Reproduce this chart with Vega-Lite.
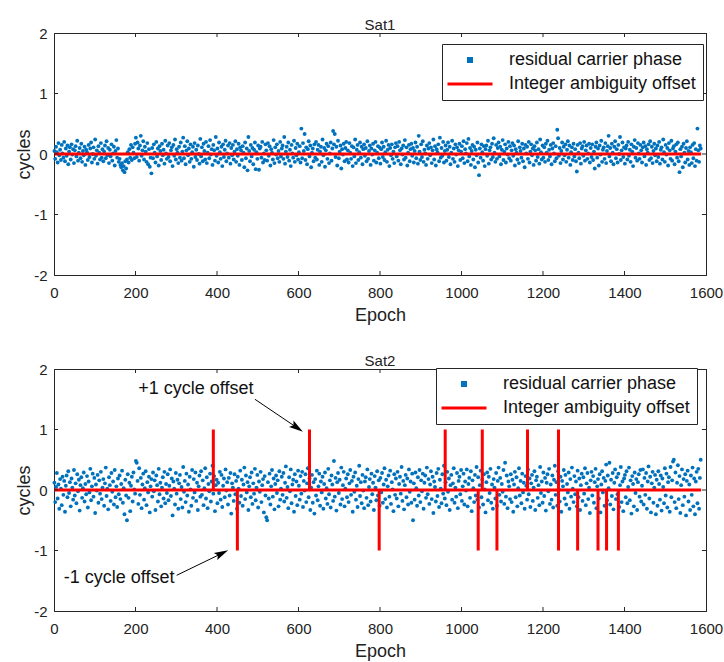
{
"$schema": "https://vega.github.io/schema/vega-lite/v6.json",
"background": "white",
"padding": {"left": 15, "top": 17, "right": 0, "bottom": 0},
"spacing": 28,
"config": {
 "font": "Liberation Sans",
 "view": {"stroke": "#262626", "strokeWidth": 1},
 "axis": {"grid": false, "domainColor": "#262626", "tickColor": "#262626", "labelColor": "#222222", "titleColor": "#222222", "labelFontSize": 15, "titleFontSize": 18, "titleFontWeight": "normal", "tickSize": 0, "labelFlush": false, "labelOverlap": false},
 "title": {"fontSize": 15, "fontWeight": "normal", "color": "#222222"},
 "style": {"group-title": {"fontSize": 15, "fontWeight": "normal"}},
 "legend": {"title": null, "fillColor": "white", "strokeColor": "#262626", "padding": 7, "labelFontSize": 18, "labelColor": "#111111", "labelLimit": 400, "symbolSize": 2025, "symbolStrokeWidth": 3, "rowPadding": 6, "labelOffset": 30, "symbolOffset": 12}
},
"datasets": {
"r": [{"e":1,"a":0.05,"b":0.12},{"e":3,"a":-0.08,"b":-0.2},{"e":5,"a":0.12,"b":0.05},{"e":7,"a":0.03,"b":0.28},{"e":9,"a":-0.14,"b":-0.14},{"e":11,"a":0.18,"b":0.09},{"e":13,"a":-0.02,"b":-0.31},{"e":15,"a":0.07,"b":0.18},{"e":17,"a":-0.1,"b":0.02},{"e":19,"a":0.15,"b":-0.25},{"e":21,"a":0.01,"b":0.22},{"e":23,"a":-0.06,"b":-0.08},{"e":25,"a":0.2,"b":0.15},{"e":27,"a":-0.12,"b":-0.36},{"e":29,"a":0.09,"b":0.07},{"e":31,"a":-0.03,"b":0.24},{"e":33,"a":0.14,"b":-0.12},{"e":35,"a":-0.17,"b":0.31},{"e":37,"a":0.04,"b":-0.05},{"e":39,"a":0.11,"b":0.13},
{"e":41,"a":-0.09,"b":-0.27},{"e":43,"a":0.16,"b":0.19},{"e":45,"a":-0.01,"b":0.04},{"e":47,"a":0.08,"b":-0.16},{"e":49,"a":-0.15,"b":0.33},{"e":51,"a":0.06,"b":-0.09},{"e":53,"a":0.13,"b":0.11},{"e":55,"a":-0.04,"b":-0.22},{"e":57,"a":0.22,"b":0.26},{"e":59,"a":-0.11,"b":-0.02},{"e":61,"a":0.02,"b":0.17},{"e":63,"a":0.1,"b":-0.34},{"e":65,"a":-0.07,"b":0.08},{"e":67,"a":0.17,"b":0.21},{"e":69,"a":-0.13,"b":-0.13},{"e":71,"a":0.05,"b":0.03},{"e":73,"a":-0.02,"b":0.29},{"e":75,"a":0.12,"b":-0.19},{"e":77,"a":-0.18,"b":0.1},{"e":79,"a":0.07,"b":-0.07},
{"e":81,"a":0.03,"b":0.23},{"e":83,"a":-0.1,"b":-0.29},{"e":85,"a":0.15,"b":0.14},{"e":87,"a":-0.05,"b":-0.04},{"e":89,"a":0.09,"b":0.35},{"e":91,"a":0.19,"b":-0.17},{"e":93,"a":-0.14,"b":0.06},{"e":95,"a":0,"b":0.27},{"e":97,"a":0.11,"b":-0.11},{"e":99,"a":-0.08,"b":0.2},{"e":101,"a":0.24,"b":-0.38},{"e":103,"a":-0.03,"b":0.09},{"e":105,"a":0.06,"b":-0.01},{"e":107,"a":-0.16,"b":0.25},{"e":109,"a":0.13,"b":-0.21},{"e":111,"a":0.02,"b":0.16},{"e":113,"a":-0.09,"b":-0.06},{"e":115,"a":0.18,"b":0.3},{"e":117,"a":-0.06,"b":-0.15},{"e":119,"a":0.08,"b":0.04},
{"e":121,"a":-0.12,"b":0.18},{"e":123,"a":0.04,"b":-0.26},{"e":125,"a":0.14,"b":0.11},{"e":127,"a":-0.07,"b":0.37},{"e":129,"a":0.21,"b":-0.1},{"e":131,"a":-0.02,"b":0.02},{"e":133,"a":0.1,"b":-0.32},{"e":135,"a":-0.15,"b":0.21},{"e":137,"a":0.07,"b":0.08},{"e":139,"a":-0.04,"b":-0.18},{"e":141,"a":0.16,"b":0.28},{"e":143,"a":-0.11,"b":-0.03},{"e":145,"a":0.01,"b":0.14},{"e":147,"a":0.12,"b":-0.24},{"e":149,"a":-0.19,"b":0.33},{"e":151,"a":0.05,"b":-0.12},{"e":153,"a":0.23,"b":0.06},{"e":155,"a":-0.06,"b":-0.28},{"e":157,"a":0.09,"b":0.19},{"e":159,"a":-0.13,"b":-0.07},
{"e":161,"a":-0.08,"b":0.24},{"e":163,"a":-0.18,"b":-0.15},{"e":165,"a":-0.22,"b":0.1},{"e":167,"a":-0.15,"b":0.32},{"e":169,"a":-0.27,"b":-0.21},{"e":171,"a":-0.2,"b":0.03},{"e":173,"a":-0.3,"b":-0.4},{"e":175,"a":-0.12,"b":0.17},{"e":177,"a":-0.24,"b":-0.09},{"e":179,"a":-0.09,"b":-0.5},{"e":181,"a":0.03,"b":0.26},{"e":183,"a":-0.14,"b":-0.13},{"e":185,"a":0.08,"b":0.12},{"e":187,"a":-0.06,"b":-0.35},{"e":189,"a":0.15,"b":0.07},{"e":191,"a":-0.1,"b":0.22},{"e":193,"a":0.11,"b":-0.19},{"e":195,"a":0.02,"b":0.29},{"e":197,"a":-0.07,"b":0.01},{"e":199,"a":0.17,"b":-0.06},
{"e":201,"a":0.27,"b":0.48},{"e":203,"a":-0.05,"b":0.45},{"e":205,"a":0.19,"b":0.15},{"e":207,"a":0.09,"b":-0.23},{"e":209,"a":-0.11,"b":0.36},{"e":211,"a":0.14,"b":-0.08},{"e":213,"a":0.3,"b":0.2},{"e":215,"a":-0.03,"b":-0.3},{"e":217,"a":0.06,"b":0.09},{"e":219,"a":0.21,"b":0.27},{"e":221,"a":-0.09,"b":-0.16},{"e":223,"a":0.12,"b":0.03},{"e":225,"a":0.04,"b":0.31},{"e":227,"a":-0.13,"b":-0.25},{"e":229,"a":0.18,"b":0.13},{"e":231,"a":-0.17,"b":-0.04},{"e":233,"a":0.08,"b":0.22},{"e":235,"a":-0.21,"b":-0.37},{"e":237,"a":-0.06,"b":0.06},{"e":239,"a":-0.32,"b":0.18},
{"e":241,"a":0.1,"b":-0.11},{"e":243,"a":-0.07,"b":0.29},{"e":245,"a":0.16,"b":-0.02},{"e":247,"a":0.02,"b":0.16},{"e":249,"a":-0.14,"b":-0.33},{"e":251,"a":0.2,"b":0.24},{"e":253,"a":-0.04,"b":0.08},{"e":255,"a":0.09,"b":-0.19},{"e":257,"a":-0.19,"b":0.35},{"e":259,"a":0.13,"b":-0.07},{"e":261,"a":0.05,"b":0.12},{"e":263,"a":-0.1,"b":-0.27},{"e":265,"a":0.17,"b":0.04},{"e":267,"a":-0.02,"b":0.21},{"e":269,"a":0.07,"b":-0.14},{"e":271,"a":-0.16,"b":0.3},{"e":273,"a":0.22,"b":-0.22},{"e":275,"a":0.01,"b":0.1},{"e":277,"a":-0.08,"b":-0.05},{"e":279,"a":0.14,"b":0.26},
{"e":281,"a":-0.05,"b":-0.17},{"e":283,"a":0.18,"b":0.07},{"e":285,"a":-0.12,"b":0.34},{"e":287,"a":0.06,"b":-0.1},{"e":289,"a":0.11,"b":0.19},{"e":291,"a":-0.2,"b":-0.42},{"e":293,"a":0.15,"b":0.14},{"e":295,"a":-0.03,"b":0.02},{"e":297,"a":0.24,"b":-0.24},{"e":299,"a":-0.09,"b":0.28},{"e":301,"a":0.08,"b":-0.06},{"e":303,"a":0.02,"b":0.17},{"e":305,"a":-0.15,"b":-0.31},{"e":307,"a":0.12,"b":0.11},{"e":309,"a":-0.06,"b":0.25},{"e":311,"a":0.19,"b":-0.15},{"e":313,"a":-0.11,"b":0.05},{"e":315,"a":0.04,"b":-0.29},{"e":317,"a":0.27,"b":0.38},{"e":319,"a":-0.07,"b":-0.03},
{"e":321,"a":0.13,"b":0.15},{"e":323,"a":-0.17,"b":-0.2},{"e":325,"a":0.06,"b":0.27},{"e":327,"a":0.21,"b":-0.09},{"e":329,"a":-0.02,"b":0.09},{"e":331,"a":0.09,"b":-0.36},{"e":333,"a":-0.13,"b":0.22},{"e":335,"a":0.16,"b":0.01},{"e":337,"a":-0.08,"b":-0.26},{"e":339,"a":0.03,"b":0.33},{"e":341,"a":0.12,"b":-0.13},{"e":343,"a":-0.21,"b":0.18},{"e":345,"a":0.18,"b":-0.04},{"e":347,"a":-0.05,"b":0.29},{"e":349,"a":0.07,"b":-0.18},{"e":351,"a":-0.1,"b":0.12},{"e":353,"a":0.14,"b":-0.33},{"e":355,"a":0,"b":0.06},{"e":357,"a":-0.16,"b":0.24},{"e":359,"a":0.25,"b":-0.11},
{"e":361,"a":-0.04,"b":0.31},{"e":363,"a":0.11,"b":-0.08},{"e":365,"a":-0.12,"b":0.16},{"e":367,"a":0.17,"b":-0.25},{"e":369,"a":0.05,"b":0.03},{"e":371,"a":-0.09,"b":0.36},{"e":373,"a":0.2,"b":-0.14},{"e":375,"a":-0.15,"b":0.21},{"e":377,"a":0.02,"b":-0.3},{"e":379,"a":0.13,"b":0.1},{"e":381,"a":-0.07,"b":-0.02},{"e":383,"a":0.23,"b":0.27},{"e":385,"a":-0.01,"b":-0.19},{"e":387,"a":0.08,"b":0.14},{"e":389,"a":-0.18,"b":0.4},{"e":391,"a":0.15,"b":-0.06},{"e":393,"a":0.06,"b":0.23},{"e":395,"a":-0.11,"b":-0.35},{"e":397,"a":0.28,"b":0.08},{"e":399,"a":-0.03,"b":0.17},
{"e":401,"a":0.09,"b":-0.22},{"e":403,"a":-0.14,"b":0.12},{"e":405,"a":0.19,"b":-0.05},{"e":407,"a":0.03,"b":0.3},{"e":409,"a":-0.08,"b":-0.16},{"e":411,"a":0.12,"b":0.25},{"e":413,"a":-0.2,"b":-0.28},{"e":415,"a":0.16,"b":0.07},{"e":417,"a":-0.05,"b":0.19},{"e":419,"a":0.07,"b":-0.12},{"e":421,"a":0.22,"b":0.34},{"e":423,"a":-0.12,"b":-0.01},{"e":425,"a":0.01,"b":0.13},{"e":427,"a":0.14,"b":-0.24},{"e":429,"a":-0.06,"b":0.2},{"e":431,"a":0.18,"b":-0.09},{"e":433,"a":-0.16,"b":0.28},{"e":435,"a":0.1,"b":-0.39},{"e":437,"a":-0.02,"b":0.11},{"e":439,"a":0.15,"b":0.04},
{"e":441,"a":-0.09,"b":-0.18},{"e":443,"a":0.04,"b":0.26},{"e":445,"a":0.21,"b":-0.07},{"e":447,"a":-0.13,"b":0.15},{"e":449,"a":0.08,"b":-0.31},{"e":451,"a":-0.03,"b":0.22},{"e":453,"a":0.17,"b":0.02},{"e":455,"a":-0.18,"b":-0.21},{"e":457,"a":0.11,"b":0.32},{"e":459,"a":0.06,"b":-0.1},{"e":461,"a":-0.1,"b":0.17},{"e":463,"a":0.13,"b":-0.26},{"e":465,"a":0.02,"b":0.09},{"e":467,"a":-0.22,"b":0.37},{"e":469,"a":0.19,"b":-0.15},{"e":471,"a":-0.07,"b":0.24},{"e":473,"a":0.09,"b":-0.04},{"e":475,"a":-0.27,"b":0.13},{"e":477,"a":0.28,"b":-0.33},{"e":479,"a":0.05,"b":0.06},
{"e":481,"a":-0.12,"b":0.21},{"e":483,"a":0.15,"b":-0.12},{"e":485,"a":-0.04,"b":0.29},{"e":487,"a":0.1,"b":-0.23},{"e":489,"a":-0.17,"b":0.11},{"e":491,"a":0.07,"b":-0.06},{"e":493,"a":0.19,"b":0.35},{"e":495,"a":-0.25,"b":-0.17},{"e":497,"a":0.03,"b":0.04},{"e":499,"a":-0.08,"b":0.25},{"e":501,"a":0.14,"b":-0.29},{"e":503,"a":-0.26,"b":0.14},{"e":505,"a":0.09,"b":-0.03},{"e":507,"a":0.12,"b":0.3},{"e":509,"a":-0.06,"b":-0.2},{"e":511,"a":0.2,"b":0.08},{"e":513,"a":-0.14,"b":0.18},{"e":515,"a":0.01,"b":-0.37},{"e":517,"a":-0.1,"b":0.23},{"e":519,"a":0.16,"b":-0.09},
{"e":521,"a":0.06,"b":-0.45},{"e":523,"a":-0.11,"b":-0.5},{"e":525,"a":0.18,"b":0.13},{"e":527,"a":-0.03,"b":-0.14},{"e":529,"a":0.13,"b":0.27},{"e":531,"a":-0.19,"b":-0.24},{"e":533,"a":0.08,"b":0.06},{"e":535,"a":0.02,"b":0.33},{"e":537,"a":-0.09,"b":-0.11},{"e":539,"a":0.23,"b":0.19},{"e":541,"a":-0.15,"b":-0.32},{"e":543,"a":0.11,"b":0.1},{"e":545,"a":-0.01,"b":0.24},{"e":547,"a":0.16,"b":-0.05},{"e":549,"a":-0.07,"b":0.16},{"e":551,"a":0.05,"b":-0.27},{"e":553,"a":-0.13,"b":0.31},{"e":555,"a":0.2,"b":-0.16},{"e":557,"a":-0.04,"b":0.02},{"e":559,"a":0.09,"b":0.22},
{"e":561,"a":0.14,"b":-0.08},{"e":563,"a":-0.08,"b":0.28},{"e":565,"a":0.28,"b":-0.19},{"e":567,"a":-0.16,"b":0.12},{"e":569,"a":0.04,"b":0.39},{"e":571,"a":0.12,"b":-0.13},{"e":573,"a":-0.05,"b":0.05},{"e":575,"a":0.19,"b":-0.3},{"e":577,"a":-0.11,"b":0.21},{"e":579,"a":0.07,"b":-0.02},{"e":581,"a":-0.2,"b":0.34},{"e":583,"a":0.15,"b":-0.22},{"e":585,"a":0.01,"b":0.09},{"e":587,"a":-0.06,"b":0.17},{"e":589,"a":0.22,"b":-0.36},{"e":591,"a":-0.13,"b":0.26},{"e":593,"a":0.1,"b":-0.1},{"e":595,"a":-0.02,"b":0.14},{"e":597,"a":0.17,"b":-0.25},{"e":599,"a":-0.09,"b":0.32},
{"e":601,"a":0.03,"b":0.07},{"e":603,"a":0.13,"b":-0.16},{"e":605,"a":-0.14,"b":0.23},{"e":607,"a":0.42,"b":-0.06},{"e":609,"a":-0.07,"b":0.3},{"e":611,"a":0.18,"b":-0.28},{"e":613,"a":0.05,"b":0.15},{"e":615,"a":0.33,"b":-0.01},{"e":617,"a":-0.1,"b":0.26},{"e":619,"a":0.11,"b":-0.2},{"e":621,"a":-0.17,"b":0.11},{"e":623,"a":0.08,"b":0.36},{"e":625,"a":0.21,"b":-0.12},{"e":627,"a":-0.04,"b":0.19},{"e":629,"a":0.14,"b":-0.33},{"e":631,"a":-0.22,"b":0.04},{"e":633,"a":0.02,"b":0.25},{"e":635,"a":0.09,"b":-0.21},{"e":637,"a":-0.12,"b":0.13},{"e":639,"a":0.16,"b":-0.39},
{"e":641,"a":-0.06,"b":0.18},{"e":643,"a":0.2,"b":-0.09},{"e":645,"a":-0.09,"b":0.32},{"e":647,"a":0.07,"b":-0.17},{"e":649,"a":0.15,"b":0.06},{"e":651,"a":-0.18,"b":0.27},{"e":653,"a":0.04,"b":-0.26},{"e":655,"a":0.12,"b":0.14},{"e":657,"a":-0.13,"b":-0.04},{"e":659,"a":0.24,"b":0.22},{"e":661,"a":-0.02,"b":-0.31},{"e":663,"a":0.1,"b":0.1},{"e":665,"a":-0.21,"b":0.29},{"e":667,"a":0.06,"b":-0.14},{"e":669,"a":0.17,"b":0.03},{"e":671,"a":-0.08,"b":-0.23},{"e":673,"a":0.13,"b":0.35},{"e":675,"a":-0.15,"b":-0.07},{"e":677,"a":0.01,"b":0.16},{"e":679,"a":0.19,"b":-0.29},
{"e":681,"a":-0.11,"b":0.24},{"e":683,"a":0.09,"b":0.09},{"e":685,"a":0.38,"b":-0.18},{"e":687,"a":0.16,"b":0.48},{"e":689,"a":0.33,"b":-0.11},{"e":691,"a":-0.05,"b":0.2},{"e":693,"a":0.12,"b":-0.34},{"e":695,"a":-0.19,"b":0.13},{"e":697,"a":0.22,"b":0.28},{"e":699,"a":-0.07,"b":-0.05},{"e":701,"a":0.04,"b":0.17},{"e":703,"a":0.14,"b":-0.24},{"e":705,"a":-0.24,"b":0.37},{"e":707,"a":0.08,"b":-0.15},{"e":709,"a":-0.01,"b":0.08},{"e":711,"a":0.17,"b":0.3},{"e":713,"a":-0.12,"b":-0.27},{"e":715,"a":0.1,"b":0.02},{"e":717,"a":0.2,"b":0.19},{"e":719,"a":-0.09,"b":-0.12},
{"e":721,"a":0.06,"b":0.26},{"e":723,"a":-0.14,"b":-0.2},{"e":725,"a":0.18,"b":0.11},{"e":727,"a":0.02,"b":0.33},{"e":729,"a":-0.08,"b":-0.08},{"e":731,"a":0.13,"b":0.15},{"e":733,"a":-0.2,"b":-0.36},{"e":735,"a":0.11,"b":0.22},{"e":737,"a":-0.04,"b":-0.03},{"e":739,"a":0.24,"b":0.29},{"e":741,"a":-0.15,"b":-0.16},{"e":743,"a":0.07,"b":0.07},{"e":745,"a":0.15,"b":-0.28},{"e":747,"a":-0.1,"b":0.18},{"e":749,"a":0.03,"b":0.4},{"e":751,"a":0.19,"b":-0.1},{"e":753,"a":-0.06,"b":0.13},{"e":755,"a":0.12,"b":-0.22},{"e":757,"a":-0.17,"b":0.25},{"e":759,"a":0.08,"b":-0.01},
{"e":761,"a":0.16,"b":-0.3},{"e":763,"a":-0.03,"b":0.14},{"e":765,"a":0.1,"b":0.21},{"e":767,"a":-0.12,"b":-0.13},{"e":769,"a":0.21,"b":0.34},{"e":771,"a":-0.08,"b":-0.25},{"e":773,"a":0.05,"b":0.05},{"e":775,"a":0.14,"b":0.18},{"e":777,"a":-0.18,"b":-0.19},{"e":779,"a":0.09,"b":0.27},{"e":781,"a":-0.01,"b":-0.07},{"e":783,"a":0.17,"b":0.12},{"e":785,"a":-0.11,"b":-0.33},{"e":787,"a":0.06,"b":0.23},{"e":789,"a":0.2,"b":0.04},{"e":791,"a":-0.14,"b":-0.17},{"e":793,"a":0.02,"b":0.31},{"e":795,"a":0.13,"b":-0.09},{"e":797,"a":-0.07,"b":0.16},{"e":799,"a":0.11,"b":-0.26},
{"e":801,"a":-0.16,"b":0.2},{"e":803,"a":0.08,"b":-0.04},{"e":805,"a":0.19,"b":0.28},{"e":807,"a":-0.05,"b":-0.21},{"e":809,"a":0.12,"b":0.09},{"e":811,"a":-0.1,"b":0.36},{"e":813,"a":0.03,"b":-0.15},{"e":815,"a":0.22,"b":0.17},{"e":817,"a":-0.13,"b":-0.29},{"e":819,"a":0.07,"b":0.06},{"e":821,"a":0.15,"b":0.24},{"e":823,"a":-0.2,"b":-0.11},{"e":825,"a":0.1,"b":0.32},{"e":827,"a":-0.02,"b":-0.23},{"e":829,"a":0.16,"b":0.13},{"e":831,"a":-0.08,"b":0.01},{"e":833,"a":0.04,"b":-0.35},{"e":835,"a":-0.15,"b":0.26},{"e":837,"a":0.11,"b":-0.08},{"e":839,"a":0.18,"b":0.19},
{"e":841,"a":-0.04,"b":-0.14},{"e":843,"a":0.13,"b":0.3},{"e":845,"a":-0.11,"b":-0.27},{"e":847,"a":0.2,"b":0.1},{"e":849,"a":0.06,"b":0.22},{"e":851,"a":-0.17,"b":-0.06},{"e":853,"a":0.09,"b":0.38},{"e":855,"a":-0.01,"b":-0.18},{"e":857,"a":0.14,"b":0.15},{"e":859,"a":-0.09,"b":-0.32},{"e":861,"a":0.23,"b":0.08},{"e":863,"a":-0.06,"b":0.25},{"e":865,"a":0.11,"b":-0.12},{"e":867,"a":-0.19,"b":0.19},{"e":869,"a":0.02,"b":-0.24},{"e":871,"a":0.15,"b":0.34},{"e":873,"a":-0.12,"b":-0.03},{"e":875,"a":0.08,"b":0.14},{"e":877,"a":0.17,"b":-0.21},{"e":879,"a":-0.03,"b":0.27},
{"e":881,"a":0.1,"b":-0.5},{"e":883,"a":-0.14,"b":0.11},{"e":885,"a":0.05,"b":-0.16},{"e":887,"a":0.19,"b":0.29},{"e":889,"a":-0.07,"b":0.03},{"e":891,"a":0.12,"b":-0.26},{"e":893,"a":-0.16,"b":0.21},{"e":895,"a":0.3,"b":-0.09},{"e":897,"a":0.04,"b":0.33},{"e":899,"a":-0.1,"b":-0.2},{"e":901,"a":0.16,"b":0.16},{"e":903,"a":-0.05,"b":-0.02},{"e":905,"a":0.21,"b":0.27},{"e":907,"a":-0.13,"b":-0.31},{"e":909,"a":0.07,"b":0.12},{"e":911,"a":0.01,"b":0.24},{"e":913,"a":-0.18,"b":-0.13},{"e":915,"a":0.14,"b":0.37},{"e":917,"a":-0.08,"b":-0.07},{"e":919,"a":0.09,"b":0.18},
{"e":921,"a":0.18,"b":-0.23},{"e":923,"a":-0.02,"b":0.09},{"e":925,"a":0.11,"b":0.31},{"e":927,"a":-0.15,"b":-0.15},{"e":929,"a":0.06,"b":0.22},{"e":931,"a":0.24,"b":-0.38},{"e":933,"a":-0.09,"b":0.14},{"e":935,"a":0.13,"b":0.05},{"e":937,"a":-0.19,"b":-0.19},{"e":939,"a":0.08,"b":0.28},{"e":941,"a":0.03,"b":-0.1},{"e":943,"a":0.16,"b":0.35},{"e":945,"a":-0.12,"b":-0.28},{"e":947,"a":0.27,"b":0.17},{"e":949,"a":-0.06,"b":0.02},{"e":951,"a":0.1,"b":-0.22},{"e":953,"a":-0.03,"b":0.26},{"e":955,"a":0.2,"b":-0.06},{"e":957,"a":-0.14,"b":0.4},{"e":959,"a":0.05,"b":-0.14},
{"e":961,"a":0.14,"b":0.13},{"e":963,"a":-0.11,"b":-0.25},{"e":965,"a":0.07,"b":0.3},{"e":967,"a":0.19,"b":-0.03},{"e":969,"a":-0.05,"b":0.19},{"e":971,"a":0.12,"b":-0.33},{"e":973,"a":-0.17,"b":0.08},{"e":975,"a":0.02,"b":0.25},{"e":977,"a":0.22,"b":-0.16},{"e":979,"a":-0.08,"b":0.11},{"e":981,"a":0.09,"b":0.36},{"e":983,"a":-0.13,"b":-0.21},{"e":985,"a":0.16,"b":0.04},{"e":987,"a":-0.01,"b":-0.11},{"e":989,"a":0.11,"b":0.28},{"e":991,"a":-0.2,"b":-0.3},{"e":993,"a":0.06,"b":0.15},{"e":995,"a":0.17,"b":0.22},{"e":997,"a":-0.1,"b":-0.07},{"e":999,"a":0.04,"b":0.33},
{"e":1001,"a":0.13,"b":-0.18},{"e":1003,"a":-0.07,"b":0.06},{"e":1005,"a":0.21,"b":0.27},{"e":1007,"a":-0.15,"b":-0.24},{"e":1009,"a":0.08,"b":0.14},{"e":1011,"a":0.01,"b":-0.01},{"e":1013,"a":0.18,"b":0.34},{"e":1015,"a":-0.12,"b":-0.27},{"e":1017,"a":0.25,"b":0.1},{"e":1019,"a":-0.04,"b":0.2},{"e":1021,"a":0.1,"b":-0.13},{"e":1023,"a":-0.18,"b":0.31},{"e":1025,"a":0.05,"b":-0.35},{"e":1027,"a":0.15,"b":0.16},{"e":1029,"a":-0.09,"b":0.03},{"e":1031,"a":0.12,"b":-0.2},{"e":1033,"a":-0.22,"b":0.25},{"e":1035,"a":0.07,"b":-0.09},{"e":1037,"a":-0.02,"b":0.38},{"e":1039,"a":0.19,"b":-0.16},
{"e":1041,"a":-0.14,"b":0.21},{"e":1043,"a":-0.35,"b":-0.29},{"e":1045,"a":0.09,"b":0.08},{"e":1047,"a":-0.06,"b":0.32},{"e":1049,"a":0.16,"b":-0.12},{"e":1051,"a":0.03,"b":0.17},{"e":1053,"a":-0.11,"b":-0.24},{"e":1055,"a":0.13,"b":0.26},{"e":1057,"a":-0.2,"b":0.01},{"e":1059,"a":0.08,"b":-0.37},{"e":1061,"a":0.14,"b":0.13},{"e":1063,"a":-0.03,"b":0.29},{"e":1065,"a":0.22,"b":-0.17},{"e":1067,"a":-0.16,"b":0.22},{"e":1069,"a":0.06,"b":-0.05},{"e":1071,"a":0.11,"b":0.35},{"e":1073,"a":-0.09,"b":-0.21},{"e":1075,"a":0.17,"b":0.09},{"e":1077,"a":-0.05,"b":-0.31},{"e":1079,"a":0.26,"b":0.18},
{"e":1081,"a":0.02,"b":0.04},{"e":1083,"a":-0.13,"b":-0.14},{"e":1085,"a":0.15,"b":0.28},{"e":1087,"a":-0.08,"b":-0.26},{"e":1089,"a":0.1,"b":0.15},{"e":1091,"a":0.19,"b":0.37},{"e":1093,"a":-0.04,"b":-0.08},{"e":1095,"a":0.12,"b":0.2},{"e":1097,"a":-0.17,"b":-0.19},{"e":1099,"a":0.07,"b":0.1},{"e":1101,"a":0.23,"b":-0.03},{"e":1103,"a":-0.1,"b":0.33},{"e":1105,"a":0.04,"b":-0.23},{"e":1107,"a":0.16,"b":0.45},{"e":1109,"a":-0.14,"b":-0.11},{"e":1111,"a":0.09,"b":0.24},{"e":1113,"a":-0.01,"b":-0.3},{"e":1115,"a":0.2,"b":0.14},{"e":1117,"a":-0.07,"b":0.06},{"e":1119,"a":0.13,"b":-0.15},
{"e":1121,"a":-0.11,"b":0.26},{"e":1123,"a":0.06,"b":-0.2},{"e":1125,"a":0.18,"b":0.17},{"e":1127,"a":-0.03,"b":-0.36},{"e":1129,"a":0.14,"b":0.09},{"e":1131,"a":-0.19,"b":0.3},{"e":1133,"a":0.08,"b":-0.12},{"e":1135,"a":0.02,"b":0.21},{"e":1137,"a":-0.09,"b":-0.27},{"e":1139,"a":0.21,"b":0.03},{"e":1141,"a":-0.15,"b":0.36},{"e":1143,"a":0.11,"b":-0.09},{"e":1145,"a":0.05,"b":0.15},{"e":1147,"a":-0.06,"b":-0.22},{"e":1149,"a":0.17,"b":0.27},{"e":1151,"a":-0.12,"b":-0.04},{"e":1153,"a":0.09,"b":0.12},{"e":1155,"a":-0.22,"b":-0.31},{"e":1157,"a":0.15,"b":0.23},{"e":1159,"a":0.01,"b":0.07},
{"e":1161,"a":0.12,"b":-0.16},{"e":1163,"a":-0.08,"b":0.34},{"e":1165,"a":0.2,"b":-0.07},{"e":1167,"a":-0.14,"b":0.19},{"e":1169,"a":0.04,"b":-0.28},{"e":1171,"a":0.16,"b":0.11},{"e":1173,"a":-0.02,"b":0.25},{"e":1175,"a":0.09,"b":-0.18},{"e":1177,"a":-0.18,"b":0.04},{"e":1179,"a":0.13,"b":0.31},{"e":1181,"a":0.06,"b":-0.33},{"e":1183,"a":-0.11,"b":0.16},{"e":1185,"a":0.19,"b":0.22},{"e":1187,"a":-0.05,"b":-0.13},{"e":1189,"a":0.08,"b":0.08},{"e":1191,"a":-0.16,"b":-0.25},{"e":1193,"a":0.24,"b":0.38},{"e":1195,"a":0.03,"b":-0.05},{"e":1197,"a":-0.09,"b":0.14},{"e":1199,"a":0.14,"b":-0.21},
{"e":1201,"a":-0.06,"b":0.29},{"e":1203,"a":0.11,"b":-0.1},{"e":1205,"a":-0.13,"b":0.2},{"e":1207,"a":0.17,"b":-0.34},{"e":1209,"a":0.02,"b":0.12},{"e":1211,"a":0.22,"b":0.26},{"e":1213,"a":-0.1,"b":-0.02},{"e":1215,"a":0.07,"b":0.35},{"e":1217,"a":-0.04,"b":-0.23},{"e":1219,"a":0.15,"b":0.09},{"e":1221,"a":-0.17,"b":-0.16},{"e":1223,"a":0.09,"b":0.24},{"e":1225,"a":0.18,"b":-0.29},{"e":1227,"a":0.01,"b":0.17},{"e":1229,"a":-0.12,"b":0.4},{"e":1231,"a":0.13,"b":-0.08},{"e":1233,"a":-0.07,"b":0.13},{"e":1235,"a":0.4,"b":-0.26},{"e":1237,"a":0.26,"b":0.31},{"e":1239,"a":-0.03,"b":0.01},
{"e":1241,"a":0.1,"b":-0.19},{"e":1243,"a":-0.15,"b":0.22},{"e":1245,"a":0.05,"b":-0.36},{"e":1247,"a":0.19,"b":0.15},{"e":1249,"a":-0.09,"b":0.06},{"e":1251,"a":0.12,"b":0.33},{"e":1253,"a":-0.02,"b":-0.14},{"e":1255,"a":0.16,"b":0.25},{"e":1257,"a":-0.13,"b":-0.24},{"e":1259,"a":0.07,"b":0.1},{"e":1261,"a":0.21,"b":-0.04},{"e":1263,"a":-0.06,"b":0.29},{"e":1265,"a":0.14,"b":-0.31},{"e":1267,"a":-0.18,"b":0.18},{"e":1269,"a":0.03,"b":-0.11},{"e":1271,"a":0.11,"b":0.37},{"e":1273,"a":-0.1,"b":0.02},{"e":1275,"a":0.17,"b":-0.2},{"e":1277,"a":-0.04,"b":0.23},{"e":1279,"a":0.08,"b":-0.07},
{"e":1281,"a":-0.12,"b":0.14},{"e":1283,"a":-0.29,"b":-0.27},{"e":1285,"a":0.15,"b":0.32},{"e":1287,"a":0.02,"b":-0.12},{"e":1289,"a":-0.07,"b":0.19},{"e":1291,"a":0.18,"b":-0.33},{"e":1293,"a":-0.16,"b":0.08},{"e":1295,"a":0.09,"b":0.27},{"e":1297,"a":0.13,"b":-0.18},{"e":1299,"a":-0.03,"b":0.21},{"e":1301,"a":0.2,"b":-0.06},{"e":1303,"a":-0.11,"b":0.36},{"e":1305,"a":0.06,"b":-0.25},{"e":1307,"a":0.14,"b":0.11},{"e":1309,"a":-0.08,"b":0.28},{"e":1311,"a":0.01,"b":-0.15},{"e":1313,"a":0.17,"b":0.04},{"e":1315,"a":-0.14,"b":-0.38},{"e":1317,"a":0.1,"b":0.16},{"e":1319,"a":-0.05,"b":0.3},
{"e":1321,"a":0.16,"b":-0.09},{"e":1323,"a":-0.1,"b":0.23},{"e":1325,"a":0.04,"b":-0.21},{"e":1327,"a":-0.24,"b":0.13},{"e":1329,"a":0.12,"b":0.35},{"e":1331,"a":0.19,"b":-0.3},{"e":1333,"a":-0.06,"b":0.06},{"e":1335,"a":0.09,"b":0.18},{"e":1337,"a":-0.19,"b":-0.14},{"e":1339,"a":0.14,"b":0.26},{"e":1341,"a":-0.01,"b":-0.37},{"e":1343,"a":0.22,"b":0.09},{"e":1345,"a":-0.13,"b":0.31},{"e":1347,"a":0.07,"b":-0.04},{"e":1349,"a":0.11,"b":0.2},{"e":1351,"a":-0.08,"b":-0.26},{"e":1353,"a":0.18,"b":0.15},{"e":1355,"a":-0.15,"b":0.42},{"e":1357,"a":0.05,"b":-0.17},{"e":1359,"a":0.13,"b":0.24},
{"e":1361,"a":0.3,"b":0.03},{"e":1363,"a":-0.04,"b":0.45},{"e":1365,"a":0.1,"b":-0.24},{"e":1367,"a":-0.12,"b":0.17},{"e":1369,"a":0.17,"b":-0.1},{"e":1371,"a":0.02,"b":0.28},{"e":1373,"a":-0.17,"b":-0.32},{"e":1375,"a":0.12,"b":0.12},{"e":1377,"a":0.21,"b":0.34},{"e":1379,"a":-0.07,"b":-0.15},{"e":1381,"a":0.08,"b":0.21},{"e":1383,"a":-0.14,"b":-0.07},{"e":1385,"a":0.15,"b":0.27},{"e":1387,"a":0,"b":-0.28},{"e":1389,"a":0.28,"b":0.08},{"e":1391,"a":-0.1,"b":0.38},{"e":1393,"a":0.06,"b":-0.2},{"e":1395,"a":0.19,"b":0.14},{"e":1397,"a":-0.05,"b":-0.35},{"e":1399,"a":0.11,"b":0.19},
{"e":1401,"a":-0.16,"b":0.25},{"e":1403,"a":0.09,"b":-0.12},{"e":1405,"a":0.14,"b":0.31},{"e":1407,"a":-0.09,"b":-0.22},{"e":1409,"a":0.2,"b":0.05},{"e":1411,"a":-0.03,"b":0.37},{"e":1413,"a":0.07,"b":-0.17},{"e":1415,"a":-0.13,"b":0.16},{"e":1417,"a":0.16,"b":-0.39},{"e":1419,"a":0.04,"b":0.23},{"e":1421,"a":-0.2,"b":0.1},{"e":1423,"a":0.12,"b":-0.27},{"e":1425,"a":0.23,"b":0.29},{"e":1427,"a":-0.06,"b":-0.05},{"e":1429,"a":0.1,"b":0.18},{"e":1431,"a":-0.11,"b":-0.33},{"e":1433,"a":0.18,"b":0.13},{"e":1435,"a":0.01,"b":0.26},{"e":1437,"a":-0.08,"b":-0.11},{"e":1439,"a":0.15,"b":0.33},
{"e":1441,"a":0.06,"b":-0.19},{"e":1443,"a":-0.14,"b":0.07},{"e":1445,"a":0.11,"b":0.34},{"e":1447,"a":0.19,"b":-0.24},{"e":1449,"a":-0.04,"b":0.2},{"e":1451,"a":0.13,"b":-0.08},{"e":1453,"a":-0.18,"b":0.28},{"e":1455,"a":0.08,"b":-0.31},{"e":1457,"a":0.02,"b":0.14},{"e":1459,"a":0.16,"b":0.39},{"e":1461,"a":-0.1,"b":-0.14},{"e":1463,"a":0.21,"b":0.22},{"e":1465,"a":-0.07,"b":-0.37},{"e":1467,"a":0.12,"b":0.11},{"e":1469,"a":-0.15,"b":0.3},{"e":1471,"a":0.05,"b":-0.21},{"e":1473,"a":0.17,"b":0.04},{"e":1475,"a":-0.02,"b":0.25},{"e":1477,"a":0.09,"b":-0.4},{"e":1479,"a":-0.12,"b":0.17},
{"e":1481,"a":0.14,"b":-0.26},{"e":1483,"a":-0.05,"b":0.31},{"e":1485,"a":0.2,"b":0.1},{"e":1487,"a":-0.16,"b":-0.16},{"e":1489,"a":0.07,"b":0.24},{"e":1491,"a":0.11,"b":-0.34},{"e":1493,"a":-0.09,"b":0.19},{"e":1495,"a":0.24,"b":0.05},{"e":1497,"a":0.03,"b":-0.22},{"e":1499,"a":-0.13,"b":0.36},{"e":1501,"a":0.15,"b":-0.09},{"e":1503,"a":-0.01,"b":0.27},{"e":1505,"a":0.1,"b":-0.29},{"e":1507,"a":-0.19,"b":0.13},{"e":1509,"a":0.18,"b":0.21},{"e":1511,"a":0.06,"b":-0.36},{"e":1513,"a":-0.08,"b":0.38},{"e":1515,"a":0.22,"b":-0.12},{"e":1517,"a":-0.11,"b":0.16},{"e":1519,"a":0.09,"b":0.47},
{"e":1521,"a":0.13,"b":0.5},{"e":1523,"a":-0.17,"b":-0.2},{"e":1525,"a":0.04,"b":0.29},{"e":1527,"a":0.16,"b":-0.3},{"e":1529,"a":-0.06,"b":0.12},{"e":1531,"a":0.19,"b":0.41},{"e":1533,"a":-0.12,"b":-0.15},{"e":1535,"a":-0.3,"b":0.23},{"e":1537,"a":0.08,"b":-0.38},{"e":1539,"a":-0.04,"b":0.08},{"e":1541,"a":0.12,"b":0.34},{"e":1543,"a":-0.22,"b":-0.25},{"e":1545,"a":0.17,"b":0.18},{"e":1547,"a":0.02,"b":-0.11},{"e":1549,"a":-0.14,"b":0.26},{"e":1551,"a":0.1,"b":-0.42},{"e":1553,"a":0.21,"b":0.15},{"e":1555,"a":-0.09,"b":0.32},{"e":1557,"a":0.05,"b":-0.19},{"e":1559,"a":-0.18,"b":0.09},
{"e":1561,"a":0.11,"b":-0.33},{"e":1563,"a":0.03,"b":0.24},{"e":1565,"a":-0.15,"b":-0.08},{"e":1567,"a":0.15,"b":0.37},{"e":1569,"a":-0.07,"b":-0.27},{"e":1571,"a":0.18,"b":0.19},{"e":1573,"a":-0.2,"b":-0.4},{"e":1575,"a":0.08,"b":0.14},{"e":1577,"a":-0.11,"b":0.3},{"e":1579,"a":0.42,"b":-0.22},{"e":1581,"a":0.06,"b":0.35},{"e":1583,"a":-0.13,"b":-0.31},{"e":1585,"a":0.14,"b":0.2},{"e":1587,"a":0.09,"b":0.5}],
"o1": [{"i":0,"e":1,"v":0},{"i":1,"e":1588,"v":0}],
"o2": [{"i":0,"e":1,"v":0},{"i":1,"e":391,"v":0},{"i":2,"e":391,"v":1},{"i":3,"e":391,"v":0},{"i":4,"e":450,"v":0},{"i":5,"e":450,"v":-1},{"i":6,"e":450,"v":0},{"i":7,"e":627,"v":0},{"i":8,"e":627,"v":1},{"i":9,"e":627,"v":0},{"i":10,"e":798,"v":0},{"i":11,"e":798,"v":-1},{"i":12,"e":798,"v":0},{"i":13,"e":960,"v":0},{"i":14,"e":960,"v":1},{"i":15,"e":960,"v":0},{"i":16,"e":1041,"v":0},{"i":17,"e":1041,"v":-1},{"i":18,"e":1041,"v":0},{"i":19,"e":1051,"v":0},{"i":20,"e":1051,"v":1},{"i":21,"e":1051,"v":0},{"i":22,"e":1087,"v":0},{"i":23,"e":1087,"v":-1},{"i":24,"e":1087,"v":0},{"i":25,"e":1162,"v":0},{"i":26,"e":1162,"v":1},{"i":27,"e":1162,"v":0},{"i":28,"e":1238,"v":0},{"i":29,"e":1238,"v":1},{"i":30,"e":1238,"v":-1},{"i":31,"e":1238,"v":0},{"i":32,"e":1285,"v":0},{"i":33,"e":1285,"v":-1},{"i":34,"e":1285,"v":0},{"i":35,"e":1335,"v":0},{"i":36,"e":1335,"v":-1},{"i":37,"e":1335,"v":0},{"i":38,"e":1356,"v":0},{"i":39,"e":1356,"v":-1},{"i":40,"e":1356,"v":0},{"i":41,"e":1385,"v":0},{"i":42,"e":1385,"v":-1},{"i":43,"e":1385,"v":0},{"i":44,"e":1588,"v":0}],
"ann": [{"e":348,"v":1.67,"t":"+1 cycle offset"},{"e":160,"v":-1.45,"t":"-1 cycle offset"}],
"arr": [{"k":"p","e":493,"v":1.5,"e2":593,"v2":1.045},{"k":"m","e":301,"v":-1.41,"e2":408,"v2":-1.061}],
"xt": [{"x":200},{"x":400},{"x":600},{"x":800},{"x":1000},{"x":1200},{"x":1400}],
"yt": [{"y":-1},{"y":0},{"y":1}]
},
"resolve": {"scale": {"color": "independent"}},
"vconcat": [
{
 "title": {"text": "Sat1", "fontSize": 15, "fontWeight": "normal", "offset": -7},
 "width": 652, "height": 242,
 "resolve": {"axis": {"x": "independent", "y": "independent"}},
 "layer": [
  {"data": {"name": "r"},
   "mark": {"type": "point", "filled": true, "shape": "circle", "size": 15, "opacity": 1},
   "encoding": {
    "x": {"field": "e", "type": "quantitative", "scale": {"domain": [0, 1600], "nice": false, "zero": false}, "axis": {"orient": "bottom", "values": [0,200,400,600,800,1000,1200,1400,1600], "labelExpr": "'' + datum.value", "title": "Epoch", "labelPadding": 10, "titlePadding": 6}},
    "y": {"field": "a", "type": "quantitative", "scale": {"domain": [-2, 2], "nice": false}, "axis": {"orient": "left", "values": [-2,-1,0,1,2], "labelExpr": "'' + datum.value", "title": "cycles", "labelPadding": 7, "titlePadding": 0}},
    "color": {"datum": "residual carrier phase", "type": "nominal", "scale": {"domain": ["residual carrier phase", "Integer ambiguity offset"], "range": ["#0072BD", "#FF0000"]},
     "legend": {"orient": "none", "legendX": 388, "legendY": 11,
      "encoding": {"symbols": {
        "shape": {"value": {"expr": "datum.value === 'Integer ambiguity offset' ? 'stroke' : 'square'"}},
        "size": {"value": {"expr": "datum.value === 'Integer ambiguity offset' ? 2025 : 9"}},
        "fill": {"value": {"expr": "datum.value === 'Integer ambiguity offset' ? 'transparent' : '#0072BD'"}},
        "stroke": {"value": {"expr": "datum.value === 'Integer ambiguity offset' ? '#FF0000' : 'transparent'"}},
        "strokeWidth": {"value": 3}, "opacity": {"value": 1}}}}}
   }},
  {"data": {"name": "o1"},
   "mark": {"type": "line", "strokeWidth": 3, "color": "#FF0000"},
   "encoding": {
    "x": {"field": "e", "type": "quantitative", "scale": {"domain": [0, 1600], "nice": false, "zero": false}, "axis": {"orient": "top", "values": [0,200,400,600,800,1000,1200,1400,1600], "labels": false, "title": null}},
    "y": {"field": "v", "type": "quantitative", "scale": {"domain": [-2, 2], "nice": false}, "axis": {"orient": "right", "values": [-2,-1,0,1,2], "labels": false, "title": null}},
    "order": {"field": "i"},
    "color": {"datum": "Integer ambiguity offset", "type": "nominal"}
   }},
  {"data": {"name": "xt"}, "mark": {"type": "rule", "color": "#262626", "strokeWidth": 1},
   "encoding": {"x": {"field": "x", "type": "quantitative", "axis": null}, "y": {"datum": -2, "type": "quantitative", "axis": null}, "y2": {"datum": -1.934}}},
  {"data": {"name": "xt"}, "mark": {"type": "rule", "color": "#262626", "strokeWidth": 1},
   "encoding": {"x": {"field": "x", "type": "quantitative", "axis": null}, "y": {"datum": 2, "type": "quantitative", "axis": null}, "y2": {"datum": 1.934}}},
  {"data": {"name": "yt"}, "mark": {"type": "rule", "color": "#262626", "strokeWidth": 1},
   "encoding": {"y": {"field": "y", "type": "quantitative", "axis": null}, "x": {"datum": 0, "type": "quantitative", "axis": null}, "x2": {"datum": 10}}},
  {"data": {"name": "yt"}, "mark": {"type": "rule", "color": "#262626", "strokeWidth": 1},
   "encoding": {"y": {"field": "y", "type": "quantitative", "axis": null}, "x": {"datum": 1600, "type": "quantitative", "axis": null}, "x2": {"datum": 1590}}}
 ]
},
{
 "title": {"text": "Sat2", "fontSize": 15, "fontWeight": "normal", "offset": -7},
 "width": 652, "height": 242,
 "resolve": {"axis": {"x": "independent", "y": "independent"}},
 "layer": [
  {"data": {"name": "r"},
   "mark": {"type": "point", "filled": true, "shape": "circle", "size": 15, "opacity": 1},
   "encoding": {
    "x": {"field": "e", "type": "quantitative", "scale": {"domain": [0, 1600], "nice": false, "zero": false}, "axis": {"orient": "bottom", "values": [0,200,400,600,800,1000,1200,1400,1600], "labelExpr": "'' + datum.value", "title": "Epoch", "labelPadding": 10, "titlePadding": 6}},
    "y": {"field": "b", "type": "quantitative", "scale": {"domain": [-2, 2], "nice": false}, "axis": {"orient": "left", "values": [-2,-1,0,1,2], "labelExpr": "'' + datum.value", "title": "cycles", "labelPadding": 7, "titlePadding": 0}},
    "color": {"datum": "residual carrier phase", "type": "nominal", "scale": {"domain": ["residual carrier phase", "Integer ambiguity offset"], "range": ["#0072BD", "#FF0000"]},
     "legend": {"orient": "none", "legendX": 382, "legendY": -1,
      "encoding": {"symbols": {
        "shape": {"value": {"expr": "datum.value === 'Integer ambiguity offset' ? 'stroke' : 'square'"}},
        "size": {"value": {"expr": "datum.value === 'Integer ambiguity offset' ? 2025 : 9"}},
        "fill": {"value": {"expr": "datum.value === 'Integer ambiguity offset' ? 'transparent' : '#0072BD'"}},
        "stroke": {"value": {"expr": "datum.value === 'Integer ambiguity offset' ? '#FF0000' : 'transparent'"}},
        "strokeWidth": {"value": 3}, "opacity": {"value": 1}}}}}
   }},
  {"data": {"name": "o2"},
   "mark": {"type": "line", "strokeWidth": 3, "color": "#FF0000"},
   "encoding": {
    "x": {"field": "e", "type": "quantitative", "scale": {"domain": [0, 1600], "nice": false, "zero": false}, "axis": {"orient": "top", "values": [0,200,400,600,800,1000,1200,1400,1600], "labels": false, "title": null}},
    "y": {"field": "v", "type": "quantitative", "scale": {"domain": [-2, 2], "nice": false}, "axis": {"orient": "right", "values": [-2,-1,0,1,2], "labels": false, "title": null}},
    "order": {"field": "i"},
    "color": {"datum": "Integer ambiguity offset", "type": "nominal"}
   }},
  {"data": {"name": "xt"}, "mark": {"type": "rule", "color": "#262626", "strokeWidth": 1},
   "encoding": {"x": {"field": "x", "type": "quantitative", "axis": null}, "y": {"datum": -2, "type": "quantitative", "axis": null}, "y2": {"datum": -1.934}}},
  {"data": {"name": "xt"}, "mark": {"type": "rule", "color": "#262626", "strokeWidth": 1},
   "encoding": {"x": {"field": "x", "type": "quantitative", "axis": null}, "y": {"datum": 2, "type": "quantitative", "axis": null}, "y2": {"datum": 1.934}}},
  {"data": {"name": "yt"}, "mark": {"type": "rule", "color": "#262626", "strokeWidth": 1},
   "encoding": {"y": {"field": "y", "type": "quantitative", "axis": null}, "x": {"datum": 0, "type": "quantitative", "axis": null}, "x2": {"datum": 10}}},
  {"data": {"name": "yt"}, "mark": {"type": "rule", "color": "#262626", "strokeWidth": 1},
   "encoding": {"y": {"field": "y", "type": "quantitative", "axis": null}, "x": {"datum": 1600, "type": "quantitative", "axis": null}, "x2": {"datum": 1590}}},
  {"data": {"name": "arr"},
   "mark": {"type": "rule", "color": "#000000", "strokeWidth": 1},
   "encoding": {
    "x": {"field": "e", "type": "quantitative", "axis": null},
    "y": {"field": "v", "type": "quantitative", "axis": null},
    "x2": {"field": "e2"}, "y2": {"field": "v2"}
   }},
  {"data": {"name": "arr"},
   "transform": [{"filter": "datum.k === 'p'"}],
   "mark": {"type": "point", "filled": true, "opacity": 1, "color": "#000000", "size": 306, "angle": 124, "shape": "M0,-1L0.45,0.6L0,0.3L-0.45,0.6Z", "strokeWidth": 0},
   "encoding": {
    "x": {"field": "e2", "type": "quantitative", "axis": null},
    "y": {"field": "v2", "type": "quantitative", "axis": null}
   }},
  {"data": {"name": "arr"},
   "transform": [{"filter": "datum.k === 'm'"}],
   "mark": {"type": "point", "filled": true, "opacity": 1, "color": "#000000", "size": 306, "angle": 64, "shape": "M0,-1L0.45,0.6L0,0.3L-0.45,0.6Z", "strokeWidth": 0},
   "encoding": {
    "x": {"field": "e2", "type": "quantitative", "axis": null},
    "y": {"field": "v2", "type": "quantitative", "axis": null}
   }},
  {"data": {"name": "ann"},
   "mark": {"type": "text", "fontSize": 18, "color": "#111111", "align": "center", "baseline": "middle"},
   "encoding": {
    "x": {"field": "e", "type": "quantitative", "axis": null},
    "y": {"field": "v", "type": "quantitative", "axis": null},
    "text": {"field": "t"}
   }}
 ]
}
]
}
